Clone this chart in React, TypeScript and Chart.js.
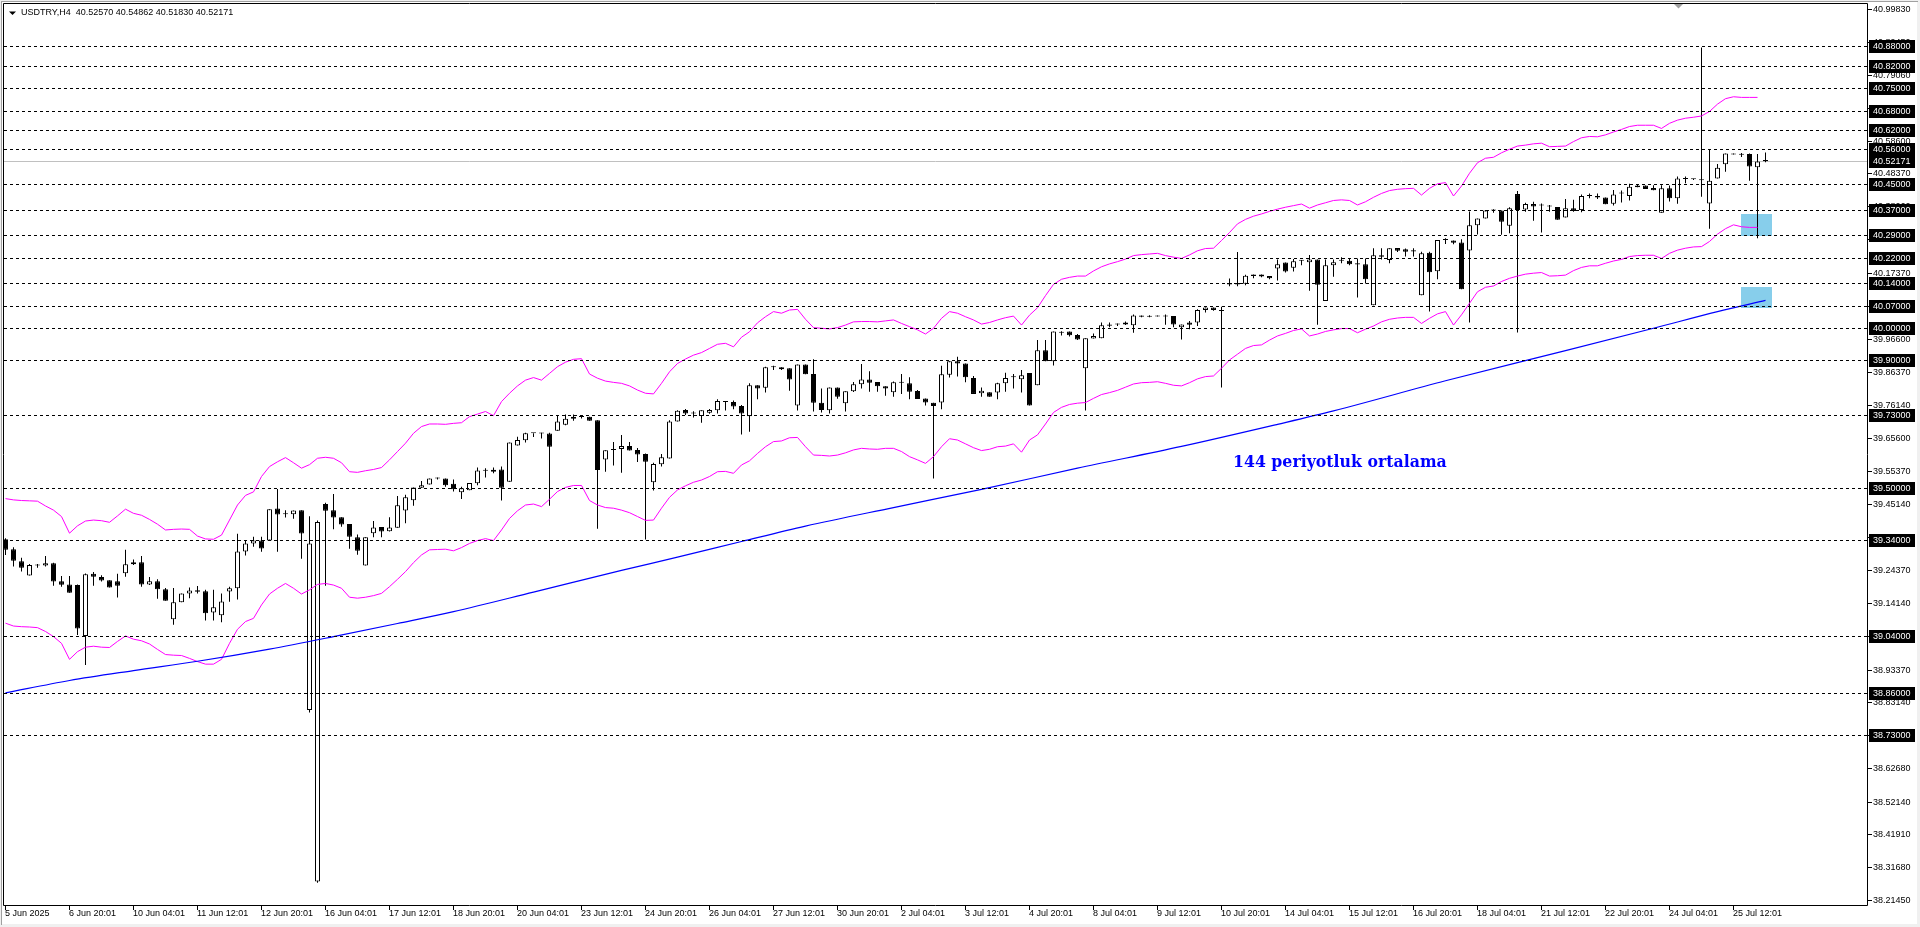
import React, { useEffect, useRef } from "react";
import { Chart, registerables } from "chart.js";

Chart.register(...registerables);

// ---------------- data (USDTRY, H4) ----------------
const OPEN = [
  39.341,39.310,39.272,39.228,39.259,39.259,39.266,39.210,39.200,39.198,
  39.039,39.233,39.223,39.213,39.210,39.235,39.263,39.269,39.200,39.210,
  39.185,39.091,39.144,39.172,39.182,39.179,39.112,39.104,39.178,39.188,
  39.303,39.328,39.337,39.337,39.437,39.419,39.419,39.432,38.808,38.272,
  39.451,39.432,39.410,39.389,39.347,39.259,39.360,39.379,39.366,39.377,
  39.431,39.463,39.502,39.512,39.531,39.531,39.514,39.488,39.494,39.516,
  39.555,39.552,39.559,39.521,39.634,39.650,39.672,39.672,39.671,39.680,
  39.699,39.717,39.723,39.724,39.713,39.590,39.620,39.623,39.632,39.620,
  39.607,39.519,39.575,39.593,39.709,39.745,39.734,39.726,39.736,39.744,
  39.773,39.770,39.757,39.725,39.822,39.814,39.878,39.878,39.875,39.759,
  39.887,39.857,39.767,39.744,39.815,39.766,39.803,39.825,39.840,39.832,
  39.819,39.800,39.830,39.828,39.804,39.781,39.767,39.768,39.855,39.897,
  39.890,39.845,39.797,39.800,39.799,39.828,39.847,39.841,39.860,39.822,
  39.931,39.897,39.989,39.990,39.979,39.875,39.968,39.969,40.012,40.012,
  40.012,40.009,40.040,40.038,40.040,40.040,40.038,40.003,40.018,40.018,
  40.057,40.065,40.057,40.141,40.141,40.139,40.168,40.168,40.163,40.187,
  40.205,40.189,40.211,40.206,40.215,40.085,40.197,40.211,40.211,40.203,
  40.200,40.072,40.228,40.213,40.251,40.247,40.244,40.103,40.236,40.178,
  40.276,40.274,40.268,40.243,40.322,40.343,40.368,40.368,40.320,40.419,
  40.371,40.388,40.383,40.380,40.379,40.346,40.375,40.369,40.413,40.413,
  40.408,40.389,40.421,40.413,40.440,40.446,40.438,40.361,40.437,40.406,
  40.466,40.467,40.465,40.390,40.468,40.512,40.546,40.542,40.544,40.503,
  40.5257,
];
const HIGH = [
  39.344,39.316,39.283,39.264,39.264,39.289,39.268,39.226,39.226,39.200,
  39.234,39.239,39.229,39.213,39.233,39.308,39.278,39.289,39.223,39.216,
  39.189,39.189,39.172,39.190,39.195,39.183,39.183,39.172,39.193,39.358,
  39.337,39.349,39.349,39.435,39.498,39.432,39.431,39.432,39.413,39.400,
  39.455,39.482,39.410,39.389,39.356,39.347,39.398,39.379,39.410,39.476,
  39.480,39.503,39.523,39.531,39.534,39.531,39.528,39.505,39.517,39.565,
  39.563,39.565,39.568,39.643,39.661,39.674,39.672,39.674,39.674,39.726,
  39.731,39.731,39.726,39.724,39.713,39.619,39.645,39.667,39.645,39.626,
  39.609,39.580,39.607,39.713,39.744,39.748,39.741,39.744,39.748,39.778,
  39.773,39.774,39.760,39.828,39.822,39.880,39.883,39.878,39.875,39.887,
  39.887,39.903,39.812,39.815,39.815,39.803,39.832,39.888,39.866,39.832,
  39.819,39.834,39.857,39.847,39.807,39.781,39.767,39.883,39.897,39.911,
  39.890,39.851,39.815,39.800,39.830,39.861,39.857,39.870,39.860,39.963,
  39.963,39.990,39.991,39.990,39.982,39.969,39.984,40.018,40.018,40.015,
  40.021,40.043,40.040,40.041,40.040,40.043,40.038,40.012,40.023,40.059,
  40.065,40.065,40.067,40.155,40.238,40.167,40.168,40.168,40.163,40.215,
  40.205,40.216,40.213,40.229,40.215,40.215,40.215,40.222,40.218,40.218,
  40.218,40.250,40.250,40.250,40.251,40.249,40.250,40.239,40.239,40.276,
  40.281,40.274,40.278,40.365,40.343,40.369,40.372,40.368,40.378,40.429,
  40.392,40.395,40.390,40.385,40.379,40.404,40.401,40.418,40.421,40.421,
  40.408,40.432,40.430,40.451,40.449,40.446,40.447,40.447,40.446,40.474,
  40.474,40.467,40.877,40.557,40.513,40.546,40.546,40.547,40.546,40.544,
  40.54862,
];
const LOW = [
  39.292,39.256,39.240,39.228,39.252,39.256,39.196,39.193,39.174,39.042,
  38.948,39.196,39.209,39.190,39.159,39.224,39.261,39.193,39.198,39.155,
  39.149,39.074,39.144,39.157,39.172,39.087,39.087,39.082,39.146,39.153,
  39.290,39.318,39.302,39.337,39.302,39.409,39.405,39.280,38.800,38.268,
  39.196,39.372,39.380,39.311,39.293,39.259,39.347,39.347,39.365,39.377,
  39.391,39.446,39.502,39.512,39.528,39.505,39.490,39.467,39.494,39.510,
  39.534,39.547,39.462,39.521,39.634,39.643,39.660,39.656,39.446,39.680,
  39.697,39.711,39.718,39.711,39.374,39.552,39.571,39.549,39.618,39.582,
  39.340,39.493,39.568,39.593,39.709,39.729,39.721,39.705,39.733,39.734,
  39.743,39.747,39.668,39.677,39.778,39.799,39.870,39.870,39.805,39.743,
  39.856,39.740,39.737,39.734,39.780,39.740,39.801,39.812,39.802,39.802,
  39.789,39.786,39.795,39.778,39.779,39.759,39.531,39.747,39.846,39.849,
  39.831,39.795,39.786,39.786,39.778,39.802,39.812,39.799,39.759,39.822,
  39.897,39.884,39.977,39.974,39.963,39.743,39.968,39.969,40.003,40.007,
  40.010,39.986,40.034,40.034,40.037,40.011,40.003,39.965,39.997,40.007,
  40.049,40.055,39.815,40.131,40.131,40.134,40.156,40.159,40.153,40.149,
  40.174,40.177,40.197,40.117,40.011,40.085,40.161,40.203,40.197,40.096,
  40.140,40.072,40.215,40.203,40.238,40.224,40.224,40.103,40.052,40.153,
  40.263,40.262,40.122,40.018,40.293,40.343,40.361,40.292,40.297,39.987,
  40.364,40.336,40.299,40.364,40.339,40.346,40.364,40.362,40.406,40.404,
  40.387,40.383,40.393,40.399,40.440,40.435,40.431,40.361,40.396,40.389,
  40.453,40.463,40.411,40.311,40.468,40.489,40.543,40.535,40.461,40.281,
  40.5183,
];
const CLOSE = [
  39.308,39.274,39.252,39.261,39.259,39.266,39.209,39.199,39.174,39.062,
  39.232,39.224,39.212,39.190,39.196,39.263,39.269,39.200,39.210,39.185,
  39.149,39.144,39.172,39.181,39.177,39.110,39.129,39.147,39.188,39.303,
  39.328,39.337,39.312,39.435,39.418,39.419,39.431,39.359,39.328,39.395,
  39.430,39.409,39.387,39.349,39.305,39.347,39.378,39.365,39.378,39.447,
  39.472,39.503,39.510,39.531,39.531,39.510,39.497,39.500,39.517,39.556,
  39.555,39.558,39.502,39.643,39.651,39.672,39.672,39.671,39.630,39.709,
  39.717,39.724,39.723,39.711,39.557,39.619,39.620,39.632,39.618,39.606,
  39.583,39.576,39.597,39.709,39.742,39.734,39.734,39.744,39.745,39.773,
  39.770,39.756,39.734,39.822,39.812,39.878,39.878,39.872,39.840,39.887,
  39.856,39.767,39.745,39.815,39.786,39.803,39.825,39.840,39.830,39.819,
  39.812,39.831,39.830,39.802,39.779,39.768,39.757,39.856,39.897,39.890,
  39.847,39.795,39.805,39.786,39.828,39.845,39.847,39.853,39.759,39.931,
  39.897,39.990,39.986,39.978,39.965,39.969,39.976,40.009,40.008,40.012,
  40.018,40.040,40.036,40.036,40.037,40.037,40.012,40.012,40.011,40.057,
  40.065,40.057,40.054,40.137,40.137,40.164,40.163,40.162,40.156,40.200,
  40.177,40.209,40.211,40.215,40.136,40.197,40.206,40.211,40.200,40.199,
  40.153,40.228,40.223,40.250,40.242,40.239,40.240,40.234,40.175,40.276,
  40.276,40.267,40.122,40.322,40.343,40.368,40.368,40.333,40.375,40.369,
  40.388,40.380,40.383,40.380,40.339,40.375,40.366,40.413,40.413,40.408,
  40.387,40.418,40.421,40.442,40.446,40.435,40.431,40.437,40.406,40.468,
  40.466,40.465,40.462,40.461,40.501,40.546,40.543,40.542,40.505,40.521,
  40.52171,
];

// Bollinger bands (one value per bar)
const BB_UPPER = [
  39.468,39.464,39.462,39.461,39.460,39.445,39.432,39.412,39.360,39.383,
  39.398,39.401,39.399,39.394,39.414,39.435,39.422,39.416,39.403,39.388,
  39.370,39.372,39.373,39.372,39.351,39.342,39.341,39.354,39.401,39.448,
  39.478,39.489,39.537,39.568,39.583,39.596,39.580,39.563,39.574,39.594,
  39.597,39.594,39.580,39.552,39.550,39.555,39.559,39.565,39.589,39.615,
  39.641,39.672,39.693,39.701,39.701,39.700,39.703,39.705,39.724,39.732,
  39.740,39.727,39.771,39.797,39.820,39.838,39.846,39.838,39.859,39.880,
  39.894,39.903,39.905,39.857,39.844,39.835,39.831,39.828,39.820,39.807,
  39.797,39.795,39.828,39.864,39.890,39.904,39.916,39.924,39.937,39.950,
  39.953,39.942,39.972,39.989,40.017,40.036,40.052,40.047,40.057,40.059,
  40.028,40.002,40.000,39.998,40.002,40.010,40.020,40.021,40.021,40.020,
  40.023,40.026,40.015,40.005,39.995,39.982,40.000,40.031,40.052,40.047,
  40.036,40.026,40.013,40.018,40.026,40.033,40.038,40.010,40.041,40.064,
  40.102,40.137,40.153,40.159,40.163,40.163,40.179,40.192,40.201,40.208,
  40.216,40.227,40.230,40.232,40.234,40.227,40.222,40.218,40.229,40.242,
  40.249,40.250,40.274,40.299,40.326,40.340,40.350,40.357,40.365,40.372,
  40.378,40.383,40.388,40.375,40.385,40.392,40.399,40.401,40.399,40.385,
  40.395,40.409,40.421,40.430,40.434,40.436,40.437,40.416,40.437,40.451,
  40.455,40.413,40.444,40.484,40.517,40.531,40.534,40.548,40.559,40.569,
  40.572,40.576,40.578,40.567,40.568,40.569,40.583,40.595,40.599,40.598,
  40.604,40.613,40.621,40.630,40.634,40.634,40.634,40.624,40.640,40.650,
  40.656,40.659,40.663,40.677,40.700,40.717,40.723,40.721,40.721,40.721,
];
const BB_LOWER = [
  39.079,39.070,39.068,39.067,39.065,39.053,39.037,39.016,38.966,38.990,
  39.004,39.007,39.004,39.003,39.022,39.039,39.029,39.024,39.014,38.997,
  38.981,38.979,38.978,38.969,38.959,38.951,38.951,38.966,39.016,39.060,
  39.084,39.094,39.136,39.170,39.188,39.203,39.188,39.170,39.183,39.200,
  39.203,39.198,39.188,39.160,39.157,39.160,39.165,39.172,39.193,39.216,
  39.240,39.268,39.292,39.308,39.309,39.310,39.305,39.315,39.328,39.337,
  39.343,39.337,39.370,39.406,39.430,39.448,39.451,39.443,39.466,39.490,
  39.503,39.509,39.509,39.462,39.448,39.440,39.438,39.432,39.424,39.412,
  39.400,39.401,39.438,39.472,39.495,39.508,39.519,39.526,39.537,39.552,
  39.553,39.547,39.573,39.586,39.609,39.630,39.646,39.648,39.658,39.659,
  39.630,39.604,39.603,39.601,39.604,39.611,39.620,39.625,39.623,39.622,
  39.625,39.625,39.615,39.599,39.589,39.578,39.599,39.630,39.655,39.651,
  39.639,39.627,39.618,39.622,39.630,39.632,39.639,39.613,39.651,39.667,
  39.701,39.737,39.753,39.762,39.766,39.768,39.781,39.793,39.799,39.806,
  39.816,39.826,39.830,39.831,39.833,39.828,39.822,39.820,39.830,39.842,
  39.849,39.851,39.875,39.901,39.919,39.937,39.946,39.948,39.963,39.976,
  39.984,39.993,39.998,39.976,39.982,39.990,39.995,39.999,39.999,39.986,
  39.997,40.007,40.020,40.028,40.032,40.034,40.034,40.015,40.031,40.045,
  40.052,40.010,40.042,40.078,40.114,40.128,40.132,40.146,40.156,40.163,
  40.169,40.172,40.174,40.163,40.164,40.166,40.180,40.190,40.195,40.195,
  40.203,40.210,40.215,40.224,40.227,40.228,40.228,40.218,40.234,40.244,
  40.250,40.254,40.255,40.271,40.294,40.311,40.323,40.317,40.315,40.315,
];

// 144-period moving average, read at these bars
const MA_BARS = [0, 8, 16, 24, 33, 41, 49, 56, 66, 77, 84, 92, 100, 111, 122, 134, 147, 159, 166, 180, 195, 206, 214, 220];
const MA_144 = [38.861, 38.900, 38.931, 38.960, 38.998, 39.037, 39.078, 39.115, 39.176, 39.244, 39.285, 39.334, 39.382, 39.440, 39.497, 39.563, 39.631, 39.700, 39.742, 39.836, 39.930, 40.000, 40.052, 40.087];

// horizontal levels drawn by the user
const LEVELS = [40.88, 40.82, 40.75, 40.68, 40.62, 40.56, 40.45, 40.37, 40.29, 40.22, 40.14, 40.07, 40.0, 39.9, 39.73, 39.5, 39.34, 39.04, 38.86, 38.73];
const LAST_PRICE = 40.52171;

// axis labels
const TIME_LABELS = [
  "5 Jun 2025", "6 Jun 20:01", "10 Jun 04:01", "11 Jun 12:01", "12 Jun 20:01", "16 Jun 04:01", "17 Jun 12:01",
  "18 Jun 20:01", "20 Jun 04:01", "23 Jun 12:01", "24 Jun 20:01", "26 Jun 04:01", "27 Jun 12:01", "30 Jun 20:01",
  "2 Jul 04:01", "3 Jul 12:01", "4 Jul 20:01", "8 Jul 04:01", "9 Jul 12:01", "10 Jul 20:01", "14 Jul 04:01",
  "15 Jul 12:01", "16 Jul 20:01", "18 Jul 04:01", "21 Jul 12:01", "22 Jul 20:01", "24 Jul 04:01", "25 Jul 12:01",
];
const BARS_PER_TIME_LABEL = 8;
const PRICE_TICKS = [
  40.9983, 40.8945, 40.7906, 40.6883, 40.586, 40.4837, 40.3806, 40.2773, 40.1737, 40.07,
  39.966, 39.8637, 39.7614, 39.656, 39.5537, 39.4514, 39.3476, 39.2437, 39.1414, 39.0399,
  38.9337, 38.8314, 38.7291, 38.6268, 38.5214, 38.4191, 38.3168, 38.2145,
];

const HEADER = "USDTRY,H4  40.52570 40.54862 40.51830 40.52171";
const NOTE = "144 periyotluk ortalama";

// rectangles drawn on the chart: bar range and price range
const ZONE_FROM = [216.9, 216.9];
const ZONE_TO = [220.8, 220.8];
const ZONE_HIGH = [40.357, 40.128];
const ZONE_LOW = [40.288, 40.063];

// ---------------- layout ----------------
const W = 1920;
const H = 927;
const PL = 4, PT = 4, PR = 1867, PB = 905;
const BAR_PX = 8;
const X_MIN = (PL - 5.5) / BAR_PX;
const X_MAX = X_MIN + (PR - PL) / BAR_PX;
const PX_PER_UNIT = 320.2;
const Y_MAX = 40.9983 + (8.6 - PT) / PX_PER_UNIT;
const Y_MIN = Y_MAX - (PB - PT) / PX_PER_UNIT;

const AXIS_FONT = '9px "Liberation Sans", Arial, sans-serif';

const mt4Plugin = {
  id: "mt4Look",
  beforeDraw(chart: any) {
    const ctx = chart.ctx as CanvasRenderingContext2D;
    ctx.save();
    ctx.fillStyle = "#f0f0f0";
    ctx.fillRect(0, 0, W, H);
    ctx.fillStyle = "#ffffff";
    ctx.fillRect(2, 2, W - 5, H - 5);
    ctx.fillStyle = "#a0a0a0";
    ctx.fillRect(1, 1, W - 3, 1);
    ctx.fillRect(1, 1, 1, H - 3);
    ctx.restore();
  },
  beforeDatasetsDraw(chart: any) {
    const ctx = chart.ctx as CanvasRenderingContext2D;
    const xs = chart.scales.x;
    const ys = chart.scales.y;
    ctx.save();
    ctx.fillStyle = "#87ceeb";
    for (let i = 0; i < ZONE_FROM.length; i++) {
      const x0 = Math.round(xs.getPixelForValue(ZONE_FROM[i]));
      const x1 = Math.round(xs.getPixelForValue(ZONE_TO[i]));
      const y0 = Math.round(ys.getPixelForValue(ZONE_HIGH[i]));
      const y1 = Math.round(ys.getPixelForValue(ZONE_LOW[i]));
      ctx.fillRect(x0, y0, x1 - x0, y1 - y0);
    }
    const yl = Math.round(ys.getPixelForValue(LAST_PRICE)) + 0.5;
    ctx.strokeStyle = "#c0c0c0";
    ctx.lineWidth = 1;
    ctx.beginPath();
    ctx.moveTo(PL, yl);
    ctx.lineTo(PR, yl);
    ctx.stroke();
    ctx.restore();
  },
  afterDatasetsDraw(chart: any) {
    const ctx = chart.ctx as CanvasRenderingContext2D;
    const xs = chart.scales.x;
    const ys = chart.scales.y;
    ctx.save();

    // dashed horizontal levels
    ctx.strokeStyle = "#000000";
    ctx.lineWidth = 1;
    ctx.setLineDash([3, 3]);
    for (const lv of LEVELS) {
      const y = Math.round(ys.getPixelForValue(lv)) + 0.5;
      ctx.beginPath();
      ctx.moveTo(PL, y);
      ctx.lineTo(PR, y);
      ctx.stroke();
    }
    ctx.setLineDash([]);

    // frame
    ctx.strokeStyle = "#000000";
    ctx.beginPath();
    ctx.moveTo(3.5, PB + 0.5);
    ctx.lineTo(3.5, 3.5);
    ctx.lineTo(PR + 0.5, 3.5);
    ctx.lineTo(PR + 0.5, PB + 0.5);
    ctx.lineTo(3.5, PB + 0.5);
    ctx.stroke();

    // time axis
    ctx.font = AXIS_FONT;
    ctx.fillStyle = "#000000";
    ctx.textAlign = "left";
    ctx.textBaseline = "middle";
    TIME_LABELS.forEach((lab, j) => {
      const px = Math.round(xs.getPixelForValue(j * BARS_PER_TIME_LABEL) - 0.5);
      ctx.beginPath();
      ctx.moveTo(px + 0.5, PB + 1);
      ctx.lineTo(px + 0.5, PB + 5);
      ctx.stroke();
      ctx.fillText(lab, px, 914);
    });

    // price axis: regular ticks
    for (const t of PRICE_TICKS) {
      const yc = Math.round(ys.getPixelForValue(t));
      ctx.beginPath();
      ctx.moveTo(PR + 1, yc + 0.5);
      ctx.lineTo(PR + 5, yc + 0.5);
      ctx.stroke();
      ctx.fillStyle = "#000000";
      ctx.fillText(t.toFixed(5), 1873, yc + 0.5);
    }
    // price axis: level boxes and the current price box
    const boxed = [...LEVELS, LAST_PRICE];
    for (const lv of boxed) {
      const yc = Math.round(ys.getPixelForValue(lv));
      ctx.fillStyle = "#000000";
      ctx.fillRect(1869, yc - 6, 46, 13);
      ctx.fillStyle = "#ffffff";
      ctx.fillText(lv.toFixed(5), 1873, yc + 0.5);
    }

    // header
    ctx.fillStyle = "#000000";
    ctx.beginPath();
    ctx.moveTo(9, 11.5);
    ctx.lineTo(16, 11.5);
    ctx.lineTo(12.5, 15);
    ctx.closePath();
    ctx.fill();
    ctx.fillText(HEADER, 21, 13);

    // shift marker
    ctx.fillStyle = "#a0a0a0";
    ctx.beginPath();
    ctx.moveTo(1674, 4);
    ctx.lineTo(1683, 4);
    ctx.lineTo(1678.5, 8.5);
    ctx.closePath();
    ctx.fill();

    // annotation text
    ctx.font = 'bold 15.75px "DejaVu Serif", serif';
    ctx.fillStyle = "#0000ff";
    ctx.textBaseline = "alphabetic";
    ctx.fillText(NOTE, 1233, 466.5);

    ctx.restore();
  },
};

export default function App() {
  const ref = useRef<HTMLCanvasElement | null>(null);

  useEffect(() => {
    const canvas = ref.current;
    if (!canvas) return;
    const idx = OPEN.map((_, i) => i);
    const wickData = idx.map((i) => ({ x: i, y: [LOW[i], HIGH[i]] }));
    const bodyData = idx.map((i) => ({ x: i, y: [Math.min(OPEN[i], CLOSE[i]), Math.max(OPEN[i], CLOSE[i])] }));
    const bodyFill = idx.map((i) => (CLOSE[i] >= OPEN[i] ? "#ffffff" : "#000000"));

    const chart = new Chart(canvas, {
      type: "bar",
      data: {
        datasets: [
          {
            type: "line",
            label: "MA144",
            data: MA_BARS.map((b, i) => ({ x: b, y: MA_144[i] })),
            borderColor: "#0000ff",
            borderWidth: 1.2,
            pointRadius: 0,
            tension: 0.3,
            cubicInterpolationMode: "monotone",
            fill: false,
            order: 0,
          } as any,
          {
            type: "line",
            label: "BB upper",
            data: BB_UPPER.map((v, i) => ({ x: i, y: v })),
            borderColor: "#ff00ff",
            borderWidth: 1,
            pointRadius: 0,
            tension: 0,
            fill: false,
            order: 1,
          } as any,
          {
            type: "line",
            label: "BB lower",
            data: BB_LOWER.map((v, i) => ({ x: i, y: v })),
            borderColor: "#ff00ff",
            borderWidth: 1,
            pointRadius: 0,
            tension: 0,
            fill: false,
            order: 2,
          } as any,
          {
            type: "bar",
            label: "bodies",
            data: bodyData,
            backgroundColor: bodyFill,
            borderColor: "#000000",
            borderWidth: 1,
            borderSkipped: false,
            barThickness: 5,
            minBarLength: 1,
            grouped: false,
            inflateAmount: 0,
            order: 3,
          } as any,
          {
            type: "bar",
            label: "wicks",
            data: wickData,
            backgroundColor: "#000000",
            borderWidth: 0,
            barThickness: 1,
            minBarLength: 1,
            grouped: false,
            inflateAmount: 0,
            order: 4,
          } as any,
        ],
      },
      options: {
        responsive: false,
        maintainAspectRatio: false,
        devicePixelRatio: 1,
        animation: false,
        events: [],
        layout: { padding: { left: PL, top: PT, right: W - PR, bottom: H - PB } },
        plugins: { legend: { display: false }, tooltip: { enabled: false } },
        scales: {
          x: { type: "linear", min: X_MIN, max: X_MAX, offset: false, display: false, grid: { display: false } },
          y: { type: "linear", min: Y_MIN, max: Y_MAX, display: false, grid: { display: false } },
        },
      } as any,
      plugins: [mt4Plugin],
    } as any);

    return () => chart.destroy();
  }, []);

  return (
    <div style={{ position: "fixed", left: 0, top: 0, width: W, height: H, background: "#ffffff" }}>
      <canvas ref={ref} width={W} height={H} style={{ display: "block", width: W, height: H }} />
    </div>
  );
}
